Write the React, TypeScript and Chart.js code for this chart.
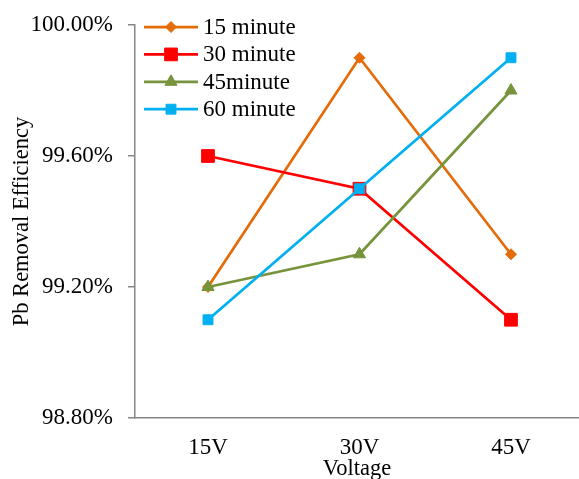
import { useEffect, useRef } from "react";
import { Chart, registerables } from "chart.js";
import { drawPoint } from "chart.js/helpers";

Chart.register(...registerables);

const categories = ["15V", "30V", "45V"];
const seriesNames = ["15 minute", "30 minute", "45minute", "60 minute"];
const min15 = [99.2, 99.9, 99.3];
const min30 = [99.6, 99.5, 99.1];
const min45 = [99.2, 99.3, 99.8];
const min60 = [99.1, 99.5, 99.9];
const yTicks = [98.8, 99.2, 99.6, 100.0];

const colors = ["#E46C0A", "#FF0000", "#77933C", "#00B0F0"];
const pointStyles = ["rectRot", "rect", "triangle", "rect"];
const pointRadii = [5.5, 9, 7, 7];
const seriesValues = [min15, min30, min45, min60];

const FONT = "'Liberation Serif', 'Times New Roman', serif";
const AXIS_GRAY = "#868686";

const insideLegend = {
  id: "insideLegend",
  afterDatasetsDraw(chart: any) {
    const ctx = chart.ctx;
    const area = chart.chartArea;
    ctx.save();
    chart.data.datasets.forEach((ds: any, i: number) => {
      const y = area.top + 2 + i * 27.4;
      const x0 = area.left + 9;
      const x1 = area.left + 63;
      ctx.strokeStyle = ds.borderColor;
      ctx.lineWidth = ds.borderWidth;
      ctx.beginPath();
      ctx.moveTo(x0, y);
      ctx.lineTo(x1, y);
      ctx.stroke();
      ctx.fillStyle = ds.pointBackgroundColor;
      ctx.strokeStyle = ds.pointBorderColor;
      ctx.lineWidth = 1;
      drawPoint(ctx, { pointStyle: ds.pointStyle, radius: ds.pointRadius, borderWidth: 1, rotation: 0 } as any, (x0 + x1) / 2, y);
      ctx.fillStyle = "#000";
      ctx.font = `23px ${FONT}`;
      ctx.textAlign = "left";
      ctx.textBaseline = "middle";
      ctx.fillText(seriesNames[i], x1 + 5, y + 1);
    });
    ctx.restore();
  },
};

export default function App() {
  const canvasRef = useRef<HTMLCanvasElement | null>(null);

  useEffect(() => {
    if (!canvasRef.current) return;
    const datasets = seriesValues.map((vals, i) => ({
      label: seriesNames[i],
      data: vals.map((v, j) => ({ x: j, y: v })),
      borderColor: colors[i],
      backgroundColor: colors[i],
      pointBackgroundColor: colors[i],
      pointBorderColor: colors[i],
      borderWidth: 2.75,
      pointStyle: pointStyles[i],
      pointRadius: pointRadii[i],
      pointBorderWidth: 1,
      tension: 0,
      clip: false,
      order: seriesValues.length - 1 - i,
    }));

    const chart = new Chart(canvasRef.current, {
      type: "line",
      data: { datasets },
      plugins: [insideLegend],
      options: {
        animation: false,
        responsive: true,
        maintainAspectRatio: false,
        layout: { autoPadding: false, padding: { top: 25, right: 0, left: 0, bottom: 0 } },
        plugins: { legend: { display: false }, tooltip: { enabled: false } },
        scales: {
          x: {
            type: "linear",
            position: "bottom",
            min: -0.4818,
            max: 2.449,
            afterBuildTicks: (scale: any) => {
              scale.ticks = categories.map((_, i) => ({ value: i }));
            },
            afterFit: (scale: any) => {
              scale.height = 61;
              scale.paddingLeft = 0;
              scale.paddingRight = 0;
            },
            grid: { display: false, drawTicks: false },
            border: { display: true, color: AXIS_GRAY, width: 1.5 },
            ticks: {
              autoSkip: false,
              maxRotation: 0,
              padding: 16,
              color: "#000",
              font: { family: FONT, size: 23 },
              callback: (v: any) => categories[Math.round(Number(v))] ?? "",
            },
            title: {
              display: true,
              text: "Voltage",
              color: "#000",
              font: { family: FONT, size: 22.5, lineHeight: 0.9 },
              padding: { top: 0, bottom: 0 },
            },
          },
          y: {
            min: 98.8,
            max: 100,
            afterBuildTicks: (scale: any) => {
              scale.ticks = yTicks.map((v) => ({ value: v }));
            },
            afterFit: (scale: any) => {
              scale.width = 135;
              scale.paddingTop = 0;
              scale.paddingBottom = 0;
            },
            grid: {
              drawOnChartArea: false,
              drawTicks: true,
              tickLength: 7,
              color: AXIS_GRAY,
              lineWidth: 1.5,
            },
            border: { display: true, color: AXIS_GRAY, width: 1.5 },
            ticks: {
              padding: 15,
              color: "#000",
              font: { family: FONT, size: 23 },
              callback: (v: any) => Number(v).toFixed(2) + "%",
            },
            title: {
              display: true,
              text: "Pb Removal Efficiency",
              color: "#000",
              font: { family: FONT, size: 22.5 },
              padding: { top: 9, bottom: 0 },
            },
          },
        },
      },
    } as any);

    return () => chart.destroy();
  }, []);

  return (
    <div style={{ position: "absolute", left: 0, top: 0, width: 579, height: 479, background: "#fff" }}>
      <canvas ref={canvasRef} />
    </div>
  );
}
